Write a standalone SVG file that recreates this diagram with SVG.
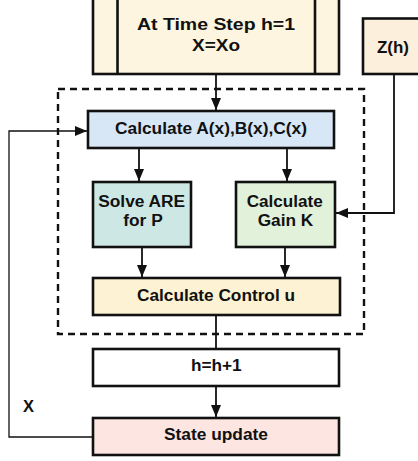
<svg xmlns="http://www.w3.org/2000/svg" width="418" height="461" viewBox="0 0 418 461">
  <style>
    .box { stroke: #111; stroke-width: 2.6; }
    .lbl { font-family: "Liberation Sans", Arial, sans-serif; font-weight: bold; font-size: 16px; fill: #111; text-anchor: middle; }
    .big { font-size: 17px; }
    .wire { fill: none; stroke: #111; stroke-width: 1.8; }
    .thin { fill: none; stroke: #111; stroke-width: 1.3; }
  </style>
  <defs>
    <marker id="arr" viewBox="0 0 12 10" refX="12" refY="5" markerWidth="12" markerHeight="10" markerUnits="userSpaceOnUse" orient="auto">
      <path d="M0,0 L12,5 L0,10 Z" fill="#111"/>
    </marker>
  </defs>
  <rect width="418" height="461" fill="#fff"/>

  <!-- dashed frame around the per-step computation -->
  <rect x="58" y="89" width="306" height="245" fill="none" stroke="#111" stroke-width="2.4" stroke-dasharray="7,5"/>

  <g id="init">
    <rect class="box" x="93" y="-2" width="246" height="76" fill="#fdf5df"/>
    <line x1="117.5" y1="-2" x2="117.5" y2="74" stroke="#111" stroke-width="2.6"/>
    <line x1="315" y1="-2" x2="315" y2="74" stroke="#111" stroke-width="2.6"/>
    <text class="lbl big" x="216" y="30" textLength="158" lengthAdjust="spacingAndGlyphs">At Time Step h=1</text>
    <text class="lbl big" x="216" y="51" textLength="48" lengthAdjust="spacingAndGlyphs">X=Xo</text>
  </g>

  <g id="zh">
    <rect class="box" x="363" y="18.5" width="60" height="55.5" fill="#fcefdc"/>
    <text class="lbl" x="393" y="52.5" textLength="32" lengthAdjust="spacingAndGlyphs">Z(h)</text>
  </g>

  <g id="calcABC">
    <rect class="box" x="88" y="111" width="246" height="37" fill="#d7e7f5"/>
    <text class="lbl" x="211" y="134" textLength="192" lengthAdjust="spacingAndGlyphs">Calculate A(x),B(x),C(x)</text>
  </g>

  <g id="solveARE">
    <rect class="box" x="93" y="182" width="98" height="65" fill="#cde8e4"/>
    <text class="lbl" x="141.7" y="206.5" textLength="87" lengthAdjust="spacingAndGlyphs">Solve ARE</text>
    <text class="lbl" x="143" y="225.5" textLength="39.4" lengthAdjust="spacingAndGlyphs">for P</text>
  </g>

  <g id="gainK">
    <rect class="box" x="236" y="182" width="99" height="65" fill="#e2f1d9"/>
    <text class="lbl" x="284.7" y="206.5" textLength="76" lengthAdjust="spacingAndGlyphs">Calculate</text>
    <text class="lbl" x="285.5" y="225.5" textLength="55.6" lengthAdjust="spacingAndGlyphs">Gain K</text>
  </g>

  <g id="controlU">
    <rect class="box" x="93" y="278" width="247" height="37" fill="#fdf2d3"/>
    <text class="lbl" x="216" y="300.5" textLength="158" lengthAdjust="spacingAndGlyphs">Calculate Control u</text>
  </g>

  <g id="increment">
    <rect class="box" x="93" y="349" width="246" height="37" fill="#ffffff"/>
    <text class="lbl" x="216.3" y="370.5" textLength="50.7" lengthAdjust="spacingAndGlyphs">h=h+1</text>
  </g>

  <g id="stateUpdate">
    <rect class="box" x="93" y="418" width="246" height="37" fill="#fde5e1"/>
    <text class="lbl" x="216" y="439.5" textLength="104" lengthAdjust="spacingAndGlyphs">State update</text>
  </g>

  <g id="connectors">
    <line class="wire" x1="216" y1="74" x2="216" y2="110" marker-end="url(#arr)"/>
    <line class="wire" x1="139" y1="148" x2="139" y2="181" marker-end="url(#arr)"/>
    <line class="wire" x1="287" y1="148" x2="287" y2="181" marker-end="url(#arr)"/>
    <line class="wire" x1="142" y1="247" x2="142" y2="277" marker-end="url(#arr)"/>
    <line class="wire" x1="285" y1="247" x2="285" y2="277" marker-end="url(#arr)"/>
    <polyline class="wire" points="394,74 394,213 336,213" marker-end="url(#arr)"/>
    <line class="wire" x1="216" y1="315" x2="216" y2="349"/>
    <line class="wire" x1="216" y1="386" x2="216" y2="417" marker-end="url(#arr)"/>
    <polyline class="thin" points="93,437 9,437 9,131 87,131" marker-end="url(#arr)"/>
    <text class="lbl" x="28.5" y="412" textLength="11" lengthAdjust="spacingAndGlyphs">X</text>
  </g>
</svg>
